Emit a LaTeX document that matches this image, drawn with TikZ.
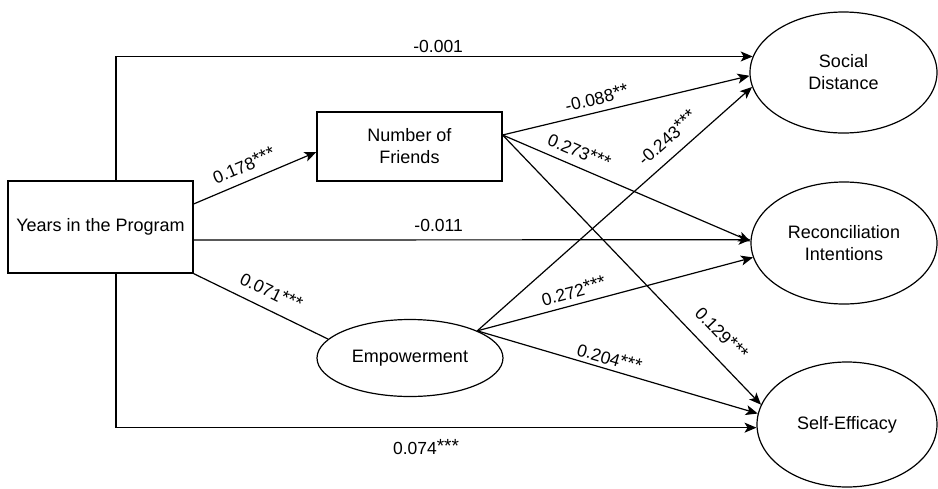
\documentclass[tikz,border=0pt]{standalone}
\usepackage{fontspec}
\setmainfont{Liberation Sans}
\usetikzlibrary{arrows.meta,shapes.geometric}

\newcommand{\stars}[1]{\raisebox{1.5pt}{\fontsize{19}{19}\selectfont#1}}

\begin{document}
\begin{tikzpicture}[x=1pt,y=-1pt,font=\fontsize{18}{22}\selectfont]
\tikzstyle{arrow} = [-{Stealth[length=12pt,width=10pt,inset=3pt]},line width=1.2pt]
\tikzstyle{link} = [line width=1.2pt]
\tikzstyle{box} = [draw,line width=1.2pt,rectangle,align=center]
\tikzstyle{oval} = [draw,line width=1.2pt,ellipse,align=center,inner sep=0pt]
\tikzstyle{coef} = [font=\fontsize{17.5}{20}\selectfont,sloped]

\useasboundingbox (0,0) rectangle (938,488);

% nodes
\node[box,minimum width=185pt,minimum height=92pt] (years) at (100.5,227) {Years in the Program};
\node[box,minimum width=185pt,minimum height=69pt] (friends) at (409.5,146.5) {Number of\\Friends};
\node[oval,minimum width=186pt,minimum height=77pt] (empower) at (410,358) {Empowerment};
\node[oval,minimum width=187pt,minimum height=121pt] (social) at (843.5,72.5) {Social\\Distance};
\node[oval,minimum width=186pt,minimum height=122pt] (recon) at (844,243) {Reconciliation\\Intentions};
\node[oval,minimum width=180pt,minimum height=125pt] (efficacy) at (847,424.5) {Self-Efficacy};

% arrows from years
\draw [arrow] ([xshift=15.5pt]years.north) |- node[coef,pos=0.753,above] {-0.001} (social.170);
\draw [arrow] ([yshift=23pt]years.east) -- node[coef,pos=0.46,above=5pt] {0.178\stars{***}} ([yshift=-5.5pt]friends.west);
\draw [arrow] ([yshift=-13pt]years.east) -- node[coef,pos=0.44,above=4pt] {-0.011} (recon.178);
\draw [link] (years.south east) -- node[coef,pos=0.52,above=7pt] {0.071\stars{***}} (empower.167);
\draw [arrow] ([xshift=15.5pt]years.south) |- node[coef,pos=0.742,below=8pt] {0.074\stars{***}} (efficacy.182);

% arrows from friends
\draw [arrow] ([yshift=11.5pt]friends.east) -- node[coef,pos=0.394,above=3pt] {-0.088\stars{**}} (social.182);
\draw [arrow] ([yshift=11.5pt]friends.east) -- node[coef,pos=0.285,above=4.5pt] {0.273\stars{***}} (recon.179);
\draw [arrow] ([yshift=11.5pt]friends.east) -- node[coef,pos=0.789,above=10pt] {0.129\stars{***}} (efficacy.167);

% arrows from empowerment
\draw [arrow] (empower.22) -- node[coef,pos=0.735,above=7.5pt] {-0.243\stars{***}} (social.189);
\draw [arrow] (empower.22) -- node[coef,pos=0.362,above=2.5pt] {0.272\stars{***}} (recon.189);
\draw [arrow] (empower.22) -- node[coef,pos=0.46,above=0.5pt] {0.204\stars{***}} (efficacy.173);

\end{tikzpicture}
\end{document}
